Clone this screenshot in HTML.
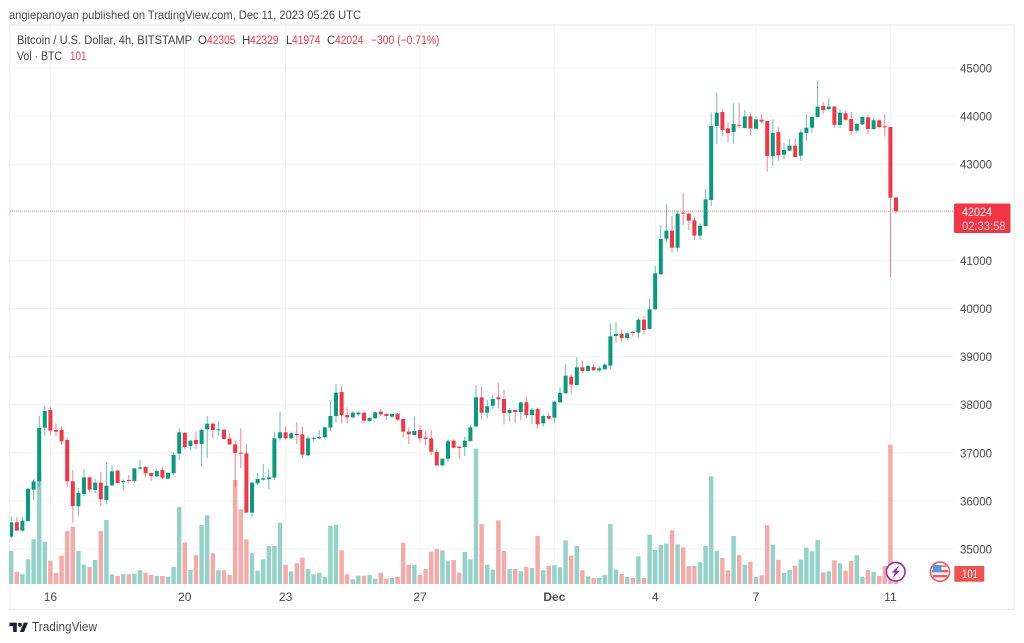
<!DOCTYPE html>
<html lang="en">
<head>
<meta charset="utf-8">
<title>Bitcoin / U.S. Dollar 4h chart</title>
<style>
html,body{margin:0;padding:0;background:#fff;width:1024px;height:643px;overflow:hidden}
svg{display:block;font-family:"Liberation Sans",sans-serif}
</style>
</head>
<body>
<svg id="chart" xmlns="http://www.w3.org/2000/svg" width="1024" height="643" viewBox="0 0 1024 643">
  <text x="9" y="19" font-size="12" fill="#4a4a50" textLength="352" lengthAdjust="spacingAndGlyphs">angiepanoyan published on TradingView.com, Dec 11, 2023 05:26 UTC</text>
  <rect x="9.5" y="25" width="1004.5" height="584.5" fill="#fff" stroke="#eeeef2" stroke-width="1.4"/>
  <g id="grid"></g>
  <g id="volumes"></g>
  <line id="price-line" x1="10" x2="954" stroke="#f23645" stroke-width="1" stroke-dasharray="1 1" opacity="0.6"/>
  <g id="candles"></g>
  <g id="price-axis"></g>
  <g id="time-axis"></g>

  <g font-size="11.5">
    <text x="17" y="44" fill="#3f4048" textLength="175" lengthAdjust="spacingAndGlyphs">Bitcoin / U.S. Dollar, 4h, BITSTAMP</text>
    <text x="198" y="44" fill="#3f4048">O</text>
    <text x="207" y="44" fill="#f23645" textLength="28.5" lengthAdjust="spacingAndGlyphs">42305</text>
    <text x="242" y="44" fill="#3f4048">H</text>
    <text x="250" y="44" fill="#f23645" textLength="28.5" lengthAdjust="spacingAndGlyphs">42329</text>
    <text x="286" y="44" fill="#3f4048">L</text>
    <text x="292" y="44" fill="#f23645" textLength="28.5" lengthAdjust="spacingAndGlyphs">41974</text>
    <text x="327" y="44" fill="#3f4048">C</text>
    <text x="335" y="44" fill="#f23645" textLength="28.5" lengthAdjust="spacingAndGlyphs">42024</text>
    <text x="371" y="44" fill="#f23645" textLength="68.5" lengthAdjust="spacingAndGlyphs">−300 (−0.71%)</text>
    <text x="17" y="60" fill="#3f4048" textLength="45" lengthAdjust="spacingAndGlyphs">Vol · BTC</text>
    <text x="70" y="60" fill="#f23645" textLength="16.5" lengthAdjust="spacingAndGlyphs">101</text>
  </g>

  <g>
    <rect x="954" y="203.5" width="56.5" height="29.5" rx="1.5" fill="#f23645"/>
    <text x="962" y="216" font-size="12" fill="#fff" textLength="30" lengthAdjust="spacingAndGlyphs">42024</text>
    <text x="962" y="230" font-size="12" fill="#fbd0d4" textLength="43.5" lengthAdjust="spacingAndGlyphs">02:33:58</text>
  </g>

  <g>
    <rect x="954.3" y="566" width="30" height="15.7" rx="1" fill="#ef5350"/>
    <text x="962" y="578" font-size="12" fill="#fff" textLength="16" lengthAdjust="spacingAndGlyphs">101</text>
  </g>

  <g>
    <circle cx="895.7" cy="571.7" r="9.3" fill="#fff" stroke="#9c27b0" stroke-width="1.6"/>
    <polygon points="899,565.5 891.5,572.5 895,572.5 892.5,578 900,570.8 896.5,570.8" fill="#9c27b0"/>
  </g>

  <g>
    <circle cx="940" cy="571.7" r="9.6" fill="#fff" stroke="#f4545e" stroke-width="1.6"/>
    <rect x="932.5" y="565" width="15" height="2" fill="#f58a8f"/>
    <rect x="932" y="570" width="16" height="2.4" fill="#f4545e"/>
    <rect x="933" y="575" width="14" height="2.4" fill="#f4545e"/>
    <rect x="933" y="565" width="8.5" height="7" fill="#4c9be8"/>
  </g>

  <g>
    <path transform="translate(9.5 620.5) scale(0.52)" d="M14 22H7V11H0V4h14v18zM28 22h-8l7.5-18h8L28 22z" fill="#1e222d"/>
    <circle cx="19.9" cy="624.7" r="2" fill="#1e222d"/>
    <text x="32" y="631" font-size="13" fill="#4a4a50" textLength="65" lengthAdjust="spacingAndGlyphs">TradingView</text>
  </g>
</svg>
<script>
const priceTicks = [45000, 44000, 43000, 42000, 41000, 40000, 39000, 38000, 37000, 36000, 35000];
const timeTickLabels = ["16", "20", "23", "27", "Dec", "4", "7", "11"];
const timeTickBars = [7, 31, 49, 73, 97, 115, 133, 157];
const opens = [35257,35555,35382,35583,36234,36407,37523,37890,37474,37474,37267,36407,35888,36144,36490,36227,36380,36019,36324,36629,36387,36435,36414,36671,36705,36580,36511,36643,36463,36574,36982,37419,37142,37267,37183,37488,37606,37468,37481,37294,37176,37003,36989,35756,36366,36442,36449,36484,37301,37426,37301,37391,37384,36948,37294,37301,37322,37523,37766,38265,37786,37738,37800,37835,37662,37717,37856,37807,37752,37814,37703,37440,37370,37474,37315,37301,37017,36740,36878,37253,37128,37121,37246,37544,38154,37835,37980,38154,38119,37828,37890,37849,38050,37786,37911,37613,37766,37731,38050,38237,38583,38410,38777,38701,38784,38715,38736,38812,39429,39470,39387,39512,39498,39768,39574,39983,40711,41452,41618,41265,41993,41972,41833,41515,41715,42255,43794,44085,43745,43669,43821,43752,43995,43738,43925,43898,43170,43669,43198,43281,43385,43177,43648,43759,43981,44210,44147,44196,43815,44057,43939,43697,43828,43974,43731,43912,43787,43773,42305];
const highs = [35673,35673,35673,36276,36449,37766,37973,37946,37613,37544,37322,36643,36276,36657,36504,36456,36608,36802,36740,36643,36449,36539,36684,36851,36726,36587,36657,36712,36587,37003,37509,37426,37267,37440,37495,37766,37627,37655,37495,37419,37253,37509,37183,36386,36574,36768,36657,37440,37856,37544,37440,37634,37544,37336,37336,37474,37544,38077,38431,38389,37946,37856,37856,37835,37738,37856,37911,37821,37821,37828,37703,37523,37752,37578,37461,37474,37093,36885,37280,37280,37142,37336,37578,38410,38375,38098,38202,38445,38306,37925,37890,38050,38167,37925,37939,37800,37821,38077,38361,38840,38632,38985,38909,38826,38847,38805,38860,39692,39720,39567,39498,39533,39796,39844,40205,40884,41736,42166,41923,42034,42409,41979,41910,41771,42484,44078,44487,44140,43870,44265,44265,44126,44078,43988,44043,43898,43932,43766,43447,43523,43537,43724,44043,43988,44729,44300,44369,44210,44140,44106,44085,43849,44002,44022,43953,43932,44043,43780,42329];
const lows = [35222,35382,35361,35569,36019,36283,37357,37371,37350,37163,36296,35548,35693,36102,36172,36158,35894,35929,36310,36366,36213,36366,36380,36643,36484,36421,36490,36449,36449,36539,36851,37073,37073,37079,36712,36885,37301,37350,37280,37163,36276,36678,35756,35659,36324,36421,36248,36435,37253,37280,37280,37183,36885,36934,37232,37280,37301,37440,37627,37613,37613,37717,37766,37613,37641,37703,37772,37682,37717,37669,37322,37183,37370,37218,37163,36955,36726,36726,36816,37093,36885,36934,37232,37544,37696,37717,37911,37925,37592,37648,37613,37682,37717,37592,37509,37544,37696,37634,38029,38230,38230,38403,38666,38680,38701,38687,38722,38736,39290,39311,39345,39415,39401,39470,39567,39976,40704,41376,41161,41182,41736,41632,41424,41424,41700,42130,43420,43593,43454,43420,43745,43745,43607,43724,43849,42844,42962,43073,43101,43274,43142,43073,43489,43655,43974,44043,44126,43759,43759,43905,43600,43655,43815,43620,43711,43745,43572,40647,41974];
const closes = [35555,35382,35590,36248,36407,37516,37869,37461,37440,37239,36407,35894,36165,36490,36234,36380,36033,36317,36615,36373,36414,36414,36678,36698,36574,36518,36622,36484,36580,36955,37426,37121,37253,37183,37474,37606,37474,37488,37287,37176,36996,36982,35756,36380,36456,36470,36490,37301,37426,37301,37405,37377,36962,37301,37308,37329,37530,37766,38251,37786,37738,37835,37835,37669,37724,37842,37800,37766,37807,37689,37440,37384,37454,37301,37287,37024,36740,36878,37239,37107,37100,37253,37530,38154,37835,37967,38119,38112,37828,37890,37849,38050,37786,37897,37592,37766,37710,38064,38244,38604,38417,38777,38701,38805,38715,38756,38833,39422,39470,39387,39484,39491,39768,39553,39983,40732,41445,41618,41265,41972,41972,41826,41515,41722,42269,43794,44071,43711,43648,43835,43801,43995,43745,43932,43884,43170,43648,43184,43295,43385,43149,43662,43759,43981,44196,44126,44196,43821,44071,43925,43690,43835,43981,43731,43912,43773,43773,42304,42024];
const volumes = [330,120,97,247,447,1123,423,233,110,283,530,573,330,193,170,240,530,640,97,80,97,97,103,137,113,90,80,80,73,170,770,417,140,290,590,687,307,137,137,90,1040,747,447,307,133,247,380,380,613,193,127,207,263,150,97,113,70,583,590,337,97,47,83,83,90,53,113,53,60,70,413,193,193,90,150,323,350,337,227,240,113,320,247,1355,600,193,143,637,330,150,150,127,173,160,480,137,180,190,167,437,283,380,137,77,60,60,90,600,143,100,70,60,277,60,493,340,390,403,537,397,367,180,180,217,380,1077,330,260,137,480,290,193,223,70,87,587,393,243,110,140,183,243,363,327,440,117,127,237,207,133,230,287,73,140,123,80,180,1395,101];
const lastPrice = 42024;

const SVG_NS = 'http://www.w3.org/2000/svg';
const PANE_LEFT = 10;
const PANE_RIGHT = 954;
const PANE_TOP = 26;
const PANE_BOTTOM = 609;
const VOLUME_BASE = 584;

function xScale(barIndex) { return 11.2 + 5.6 * barIndex; }
function yScale(price) { return 68 + (45000 - price) * 0.0481; }
function volumeScale(volume) { return volume * 0.1; }

function make(tag, attrs, parent) {
  const el = document.createElementNS(SVG_NS, tag);
  for (const key in attrs) { el.setAttribute(key, attrs[key]); }
  parent.appendChild(el);
  return el;
}

const gridGroup = document.getElementById('grid');
const priceAxisGroup = document.getElementById('price-axis');
const timeAxisGroup = document.getElementById('time-axis');
const volumeGroup = document.getElementById('volumes');
const candleGroup = document.getElementById('candles');

priceTicks.forEach(function (tick) {
  const gridLine = make('line', { x1: PANE_LEFT, x2: PANE_RIGHT, y1: yScale(tick), y2: yScale(tick), stroke: '#f3f3f5', 'stroke-width': 1 }, gridGroup);
  
  
  const label = make('text', { x: 960, y: yScale(tick) + 4.5, 'font-size': 12, fill: '#4a4a50', textLength: 32, lengthAdjust: 'spacingAndGlyphs' }, priceAxisGroup);
  label.textContent = String(tick);
  
  
});

timeTickLabels.forEach(function (tickLabel, i) {
  const tickX = xScale(timeTickBars[i]);
  const gridLine = make('line', { x1: tickX, x2: tickX, y1: PANE_TOP, y2: VOLUME_BASE + 4, stroke: '#f3f3f5', 'stroke-width': 1 }, gridGroup);
  
  
  const label = make('text', { x: tickX, y: 601, 'font-size': 12, fill: '#4a4a50', 'text-anchor': 'middle', 'font-weight': tickLabel === 'Dec' ? 'bold' : 'normal' }, timeAxisGroup);
  label.textContent = tickLabel;
  
  
});

volumes.forEach(function (volume, i) {
  const rising = closes[i] >= opens[i];
  const height = volumeScale(volume);
  const bar = make('rect', { x: xScale(i) - 2.2, y: VOLUME_BASE - height, width: 4.4, height: height, fill: rising ? '#92d2c9' : '#f7a9a7' }, volumeGroup);
  
  
});

opens.forEach(function (open, i) {
  const close = closes[i];
  const rising = close >= open;
  const color = rising ? '#089981' : '#f23645';
  const barX = xScale(i);
  const candle = make('g', {}, candleGroup);
  
  
  const wick = make('line', { x1: barX, x2: barX, y1: yScale(highs[i]), y2: yScale(lows[i]), stroke: color, 'stroke-width': 1, opacity: 0.62 }, candle);
  
  
  const bodyTop = yScale(Math.max(open, close));
  const bodyHeight = Math.max(1, Math.abs(yScale(open) - yScale(close)));
  const body = make('rect', { x: Math.max(barX - 2, PANE_LEFT), y: bodyTop, width: barX - 2 < PANE_LEFT ? barX + 2 - PANE_LEFT : 4, height: bodyHeight, fill: color }, candle);
  
  
});

const priceLine = document.getElementById('price-line');
priceLine.setAttribute('y1', yScale(lastPrice));
priceLine.setAttribute('y2', yScale(lastPrice));
</script>
</body>
</html>
